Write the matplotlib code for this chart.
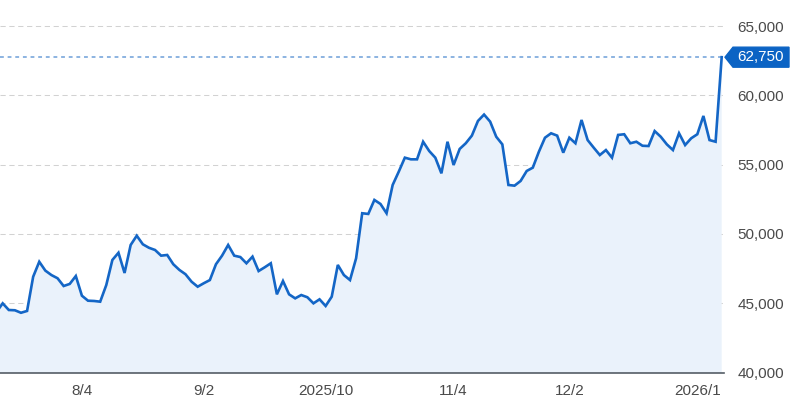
import matplotlib.pyplot as plt
from matplotlib.patches import Polygon
import numpy as np

# daily closes (first value sits just left of the frame)
values = [
    44380, 44990, 44510, 44490, 44310, 44440, 46910, 47990, 47350, 47030,
    46800, 46240, 46390, 46960, 45540, 45180, 45160, 45110, 46310, 48120,
    48640, 47180, 49200, 49870, 49250, 49000, 48840, 48430, 48480, 47810,
    47400, 47090, 46550, 46190, 46440, 46670, 47810, 48430, 49200, 48430,
    48330, 47880, 48360, 47320, 47590, 47880, 45640, 46600, 45640, 45350,
    45590, 45430, 44990, 45280, 44800, 45470, 47760, 47030, 46670, 48240,
    51490, 51440, 52450, 52160, 51490, 53530, 54490, 55500, 55380, 55380,
    56650, 55980, 55500, 54370, 56650, 54970, 56130, 56540, 57090, 58150,
    58610, 58100, 57010, 56460, 53530, 53480, 53820, 54540, 54780, 55930,
    56940, 57260, 57090, 55860, 56940, 56540, 58220, 56770, 56220, 55690,
    56050, 55500, 57140, 57190, 56540, 56650, 56360, 56340, 57420, 57010,
    56460, 56050, 57260, 56410, 56900, 57190, 58510, 56770, 56650, 62750,
]
tick_labels = ['8/4', '9/2', '2025/10', '11/4', '12/2', '2026/1']
tick_days = [13, 33, 53, 74, 93, 114]
y_ticks = [40000, 45000, 50000, 55000, 60000, 65000]

idx = np.arange(len(values)) - 1
last = values[-1]

W, H = 802, 404
fig = plt.figure(figsize=(W / 100, H / 100), dpi=100)
ax = fig.add_axes([0, (H - 372.5) / H, 724 / W, 372.5 / H])

line_c = '#1466c6'
ax.fill_between(idx, values, 0, color='#eaf2fb', lw=0)
ax.plot(idx, values, color=line_c, lw=1.9, solid_joinstyle='miter', zorder=3)
ax.axhline(last, color='#6d9fd9', lw=1.1, ls=(0, (2.5, 2.5)), zorder=2)

ax.set_xlim(-0.443, 118.38)
ax.set_ylim(40000, 66876)
ax.set_yticks(y_ticks)
ax.set_yticklabels([f'{v:,}' for v in y_ticks])
ax.set_xticks(tick_days)
ax.set_xticklabels(tick_labels)
ax.yaxis.tick_right()
ax.grid(axis='y', color='#d2d2d2', lw=0.75, ls=(0, (5, 3.5)))
ax.set_axisbelow(True)

for s in ['top', 'left', 'right']:
    ax.spines[s].set_visible(False)
ax.spines['bottom'].set_color('#555d66')
ax.spines['bottom'].set_linewidth(1.2)
ax.tick_params(axis='y', length=0, pad=9.5, labelsize=11, labelcolor='#4a4a4a')
ax.tick_params(axis='x', length=0, pad=8, labelsize=11, labelcolor='#4a4a4a')
for lab in ax.get_xticklabels() + ax.get_yticklabels():
    lab.set_fontfamily('Liberation Sans')

# price tag at the right end
ty = ax.transData.transform((0, last))[1]
pts = [(725, ty), (733, ty + 10), (789, ty + 10), (789, ty - 10), (733, ty - 10)]
tag = Polygon([(x / W, y / H) for x, y in pts], closed=True,
              transform=fig.transFigure, color='#0b63c4', zorder=5)
fig.patches.append(tag)
fig.text(761 / W, ty / H, f'{last:,}', color='white', fontsize=11,
         family='Liberation Sans', ha='center', va='center', zorder=6)

fig.savefig('out.png', dpi=100)
